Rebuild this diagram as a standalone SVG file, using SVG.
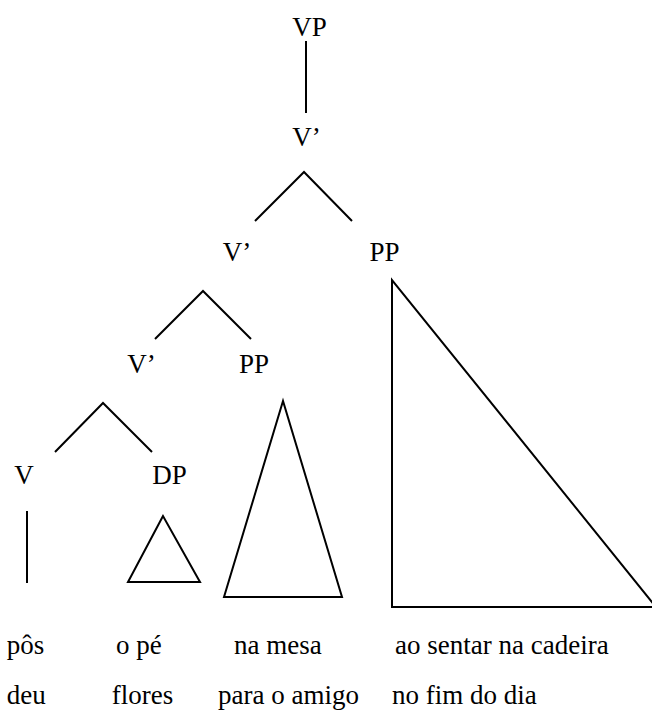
<svg xmlns="http://www.w3.org/2000/svg" width="652" height="713" viewBox="0 0 652 713">
<style>
.lbl{text-anchor:middle}
line,polyline,polygon{stroke:#000;stroke-width:2;fill:none;stroke-linejoin:miter}
</style>
<rect width="652" height="713" fill="#fff"/>
<g font-family="Liberation Serif, serif" font-size="27" fill="#000">
<g id="n-VP"><text class="lbl" x="309.5" y="35.5">VP</text></g>
<g id="n-V1"><text class="lbl" x="306.5" y="146">V’</text></g>
<g id="n-V2"><text class="lbl" x="237" y="261">V’</text></g>
<g id="n-PP1"><text class="lbl" x="384.5" y="261">PP</text></g>
<g id="n-V3"><text class="lbl" x="141.5" y="373">V’</text></g>
<g id="n-PP2"><text class="lbl" x="254" y="373">PP</text></g>
<g id="n-V"><text class="lbl" x="24" y="484">V</text></g>
<g id="n-DP"><text class="lbl" x="169.5" y="484">DP</text></g>
<g id="words">
<text x="6.7" y="653.5">pôs</text>
<text x="116" y="653.5">o pé</text>
<text x="234" y="653.5">na mesa</text>
<text x="395" y="653.5">ao sentar na cadeira</text>
<text x="6.7" y="703.5">deu</text>
<text x="111.7" y="703.5">flores</text>
<text x="218" y="703.5">para o amigo</text>
<text x="392" y="703.5">no fim do dia</text>
</g>
</g>
<g id="connectors">
<line x1="306" y1="41" x2="306" y2="113"/>
<polyline points="255,221 304,172 352,221"/>
<polyline points="155,339 203,291 251,339"/>
<polyline points="55,452 103,403 152,452"/>
<line x1="27" y1="511" x2="27" y2="583"/>
<polygon points="163,516 128,582 200,582"/>
<polygon points="283,401 224,597 342,597"/>
<polygon points="392,280 392,607 656,607"/>
</g>
</svg>
